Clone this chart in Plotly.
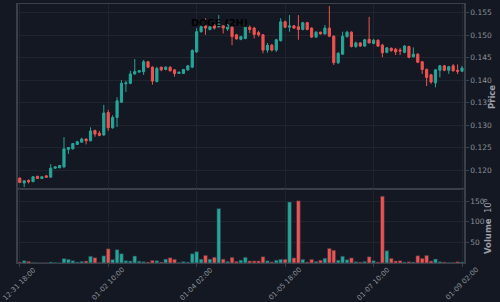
import plotly.graph_objects as go

opens = [0.1182,0.1171,0.1177,0.1174,0.1186,0.1181,0.1187,0.1184,0.1204,0.1205,
         0.1207,0.1246,0.1247,0.1257,0.1262,0.1269,0.1265,0.1288,0.1282,0.1278,
         0.1328,0.1294,0.1317,0.1351,0.1392,0.1393,0.1414,0.1418,0.1419,0.1441,
         0.1429,0.1397,0.1429,0.1424,0.1429,0.1423,0.1415,0.1415,0.1423,0.1429,
         0.1463,0.1508,0.1521,0.1513,0.1523,0.1519,0.1521,0.1514,0.1518,0.1501,
         0.1491,0.1493,0.1518,0.1516,0.1506,0.1501,0.1467,0.1478,0.1467,0.1488,
         0.1530,0.1518,0.1521,0.1519,0.1513,0.1528,0.1516,0.1496,0.1507,0.1503,
         0.1516,0.1498,0.1439,0.1458,0.1497,0.1507,0.1475,0.1483,0.1476,0.1491,
         0.1482,0.1489,0.1478,0.1462,0.1471,0.1469,0.1467,0.1462,0.1475,0.1452,
         0.1458,0.1441,0.1424,0.1412,0.1394,0.1422,0.1432,0.1422,0.1432,0.1422,
         0.1420]
highs = [0.1183,0.1177,0.1179,0.1186,0.1187,0.1186,0.1188,0.1213,0.1208,0.1211,
         0.1273,0.1251,0.1260,0.1265,0.1272,0.1270,0.1295,0.1290,0.1287,0.1345,
         0.1334,0.1322,0.1362,0.1400,0.1399,0.1421,0.1447,0.1423,0.1445,0.1443,
         0.1431,0.1430,0.1430,0.1431,0.1431,0.1424,0.1419,0.1425,0.1434,0.1469,
         0.1516,0.1522,0.1538,0.1521,0.1525,0.1545,0.1522,0.1525,0.1520,0.1503,
         0.1499,0.1520,0.1522,0.1519,0.1510,0.1503,0.1483,0.1481,0.1492,0.1538,
         0.1533,0.1545,0.1523,0.1545,0.1530,0.1530,0.1518,0.1509,0.1508,0.1523,
         0.1565,0.1500,0.1462,0.1508,0.1510,0.1509,0.1486,0.1485,0.1492,0.1541,
         0.1492,0.1491,0.1481,0.1474,0.1473,0.1472,0.1472,0.1478,0.1477,0.1473,
         0.1460,0.1443,0.1426,0.1414,0.1425,0.1434,0.1434,0.1432,0.1436,0.1435,
         0.1432]
lows = [0.1171,0.1162,0.1170,0.1173,0.1180,0.1180,0.1183,0.1183,0.1203,0.1204,
        0.1204,0.1236,0.1246,0.1256,0.1261,0.1257,0.1264,0.1274,0.1275,0.1276,
        0.1287,0.1292,0.1296,0.1350,0.1374,0.1391,0.1412,0.1417,0.1412,0.1427,
        0.1390,0.1395,0.1420,0.1422,0.1419,0.1408,0.1414,0.1414,0.1421,0.1427,
        0.1461,0.1506,0.1501,0.1511,0.1513,0.1517,0.1504,0.1510,0.1478,0.1490,
        0.1489,0.1491,0.1505,0.1493,0.1497,0.1460,0.1461,0.1464,0.1463,0.1486,
        0.1516,0.1508,0.1514,0.1490,0.1511,0.1511,0.1494,0.1494,0.1502,0.1502,
        0.1496,0.1434,0.1436,0.1456,0.1495,0.1473,0.1472,0.1474,0.1474,0.1482,
        0.1480,0.1474,0.1451,0.1460,0.1463,0.1456,0.1456,0.1460,0.1449,0.1451,
        0.1438,0.1414,0.1387,0.1392,0.1384,0.1406,0.1420,0.1414,0.1419,0.1414,
        0.1419]
closes = [0.1172,0.1176,0.1174,0.1185,0.1181,0.1185,0.1184,0.1204,0.1207,0.1210,
          0.1247,0.1250,0.1259,0.1263,0.1269,0.1265,0.1287,0.1280,0.1277,0.1327,
          0.1294,0.1317,0.1354,0.1393,0.1394,0.1414,0.1419,0.1421,0.1441,0.1429,
          0.1398,0.1426,0.1423,0.1429,0.1421,0.1415,0.1418,0.1424,0.1432,0.1466,
          0.1508,0.1519,0.1516,0.1519,0.1516,0.1525,0.1516,0.1523,0.1497,0.1492,
          0.1497,0.1518,0.1513,0.1502,0.1501,0.1467,0.1478,0.1467,0.1490,0.1530,
          0.1518,0.1521,0.1516,0.1513,0.1528,0.1513,0.1496,0.1507,0.1503,0.1516,
          0.1498,0.1439,0.1460,0.1498,0.1507,0.1475,0.1483,0.1476,0.1490,0.1483,
          0.1489,0.1476,0.1461,0.1472,0.1466,0.1463,0.1465,0.1476,0.1451,0.1458,
          0.1440,0.1424,0.1406,0.1396,0.1423,0.1432,0.1422,0.1430,0.1421,0.1420,
          0.1427]
volumes = [2.0,5.6,4.0,1.6,1.2,1.0,1.0,2.4,1.6,1.0,
           11.0,9.0,5.6,2.4,4.0,4.8,16.5,13.0,1.5,17.5,
           34.5,8.5,32.5,22.6,5.6,4.8,17.0,4.4,3.2,2.4,
           6.4,5.6,2.4,9.4,12.8,9.0,1.6,3.6,2.4,22.5,
           27.5,9.3,18.6,9.5,14.0,132.0,9.4,4.0,13.8,4.0,
           7.0,13.8,5.0,5.0,5.0,15.3,5.5,2.8,6.8,9.0,
           9.0,148.0,12.4,151.0,8.9,2.4,8.9,4.0,6.8,11.6,
           35.5,31.0,6.8,16.5,8.0,12.4,3.2,2.2,4.0,15.2,
           5.6,2.4,162.0,29.8,11.3,4.8,5.6,2.4,3.2,2.4,
           17.7,11.3,18.6,4.8,9.7,3.2,2.4,1.6,1.6,3.2,
           2.4]
tick_positions = [0, 20, 40, 60, 80, 100]
tick_labels = ["12-31 18:00", "01-02 10:00", "01-04 02:00",
               "01-05 18:00", "01-07 10:00", "01-09 02:00"]
price_ticks = [0.120, 0.125, 0.130, 0.135, 0.140, 0.145, 0.150, 0.155]
volume_ticks = [50, 100, 150]

UP = "#26a69a"
DOWN = "#ef5350"
BG = "#141822"
GRID = "#1f242e"
FRAME = "#3a3f49"
TXT = "#8a8f98"
TITLE_TXT = "#9a9fa8"

idx = list(range(len(opens)))
vol_colors = [UP if c >= o else DOWN for o, c in zip(opens, closes)]

fig = go.Figure()
fig.add_trace(go.Candlestick(
    x=idx, open=opens, high=highs, low=lows, close=closes,
    increasing=dict(line=dict(color=UP, width=1), fillcolor=UP),
    decreasing=dict(line=dict(color=DOWN, width=1), fillcolor=DOWN),
    whiskerwidth=0, xaxis="x", yaxis="y", showlegend=False, hoverinfo="skip"))
fig.add_trace(go.Bar(
    x=idx, y=volumes, marker=dict(color=vol_colors, line=dict(color="#2a3040", width=0.6)),
    width=0.85, xaxis="x2", yaxis="y2", showlegend=False, hoverinfo="skip"))

split = (263 - 189) / 259
xr = [-0.4, 100.45]

annotations = [
    dict(text="<b>DOGE (2H)</b>", xref="paper", yref="paper",
         x=(219 - 18) / 446, y=(263 - 23) / 259, showarrow=False,
         xanchor="center", yanchor="middle",
         font=dict(family="DejaVu Sans", size=9.5, color="#000000")),
    dict(text="<b>Price</b>", xref="paper", yref="paper",
         x=(492 - 18) / 446, y=(263 - 97) / 259, showarrow=False,
         textangle=-90, xanchor="center", yanchor="middle",
         font=dict(size=8.5, color=TITLE_TXT)),
    dict(text="<b>Volume</b>  10<sup>6</sup>", xref="paper", yref="paper",
         x=(487 - 18) / 446, y=(263 - 226) / 259, showarrow=False,
         textangle=-90, xanchor="center", yanchor="middle",
         font=dict(size=8.5, color=TITLE_TXT)),
]
for pos, lab in zip(tick_positions, tick_labels):
    annotations.append(dict(
        text=lab, xref="x2", yref="paper", x=pos, y=(263 - 284) / 259,
        showarrow=False, textangle=-45, xanchor="center", yanchor="middle",
        font=dict(size=7, color=TXT)))

fig.update_layout(
    width=500, height=302,
    margin=dict(l=18, r=36, t=4, b=39, autoexpand=False),
    paper_bgcolor=BG, plot_bgcolor=BG,
    font=dict(family="DejaVu Sans", color=TXT, size=8),
    xaxis=dict(domain=[0, 1], anchor="y", range=xr, showticklabels=False,
               tickvals=tick_positions, showgrid=True, gridcolor=GRID, gridwidth=1,
               showline=True, linecolor=FRAME, linewidth=1, mirror=True,
               zeroline=False, rangeslider=dict(visible=False)),
    xaxis2=dict(domain=[0, 1], anchor="y2", range=xr, matches="x",
                tickvals=tick_positions, showticklabels=False,
                ticks="outside", ticklen=3, tickcolor=FRAME,
                showgrid=True, gridcolor=GRID, gridwidth=1,
                showline=True, linecolor=FRAME, linewidth=1, mirror=True,
                zeroline=False),
    yaxis=dict(domain=[split, 1], anchor="x", side="right",
               range=[0.11577, 0.15697], tickvals=price_ticks, tickformat=".3f",
               ticks="outside", ticklen=3, tickcolor=FRAME,
               tickfont=dict(size=7.5, color=TXT),
               showgrid=True, gridcolor=GRID, zeroline=False,
               showline=True, linecolor=FRAME, linewidth=1.5, mirror=True),
    yaxis2=dict(domain=[0, split], anchor="x2", side="right",
                range=[0, 179.5], tickvals=volume_ticks,
                ticks="outside", ticklen=3, tickcolor=FRAME,
                tickfont=dict(size=7.5, color=TXT),
                showgrid=True, gridcolor=GRID, zeroline=False,
                showline=True, linecolor=FRAME, linewidth=1.5, mirror=True),
    annotations=annotations,
)

fig.write_html("out.html")
